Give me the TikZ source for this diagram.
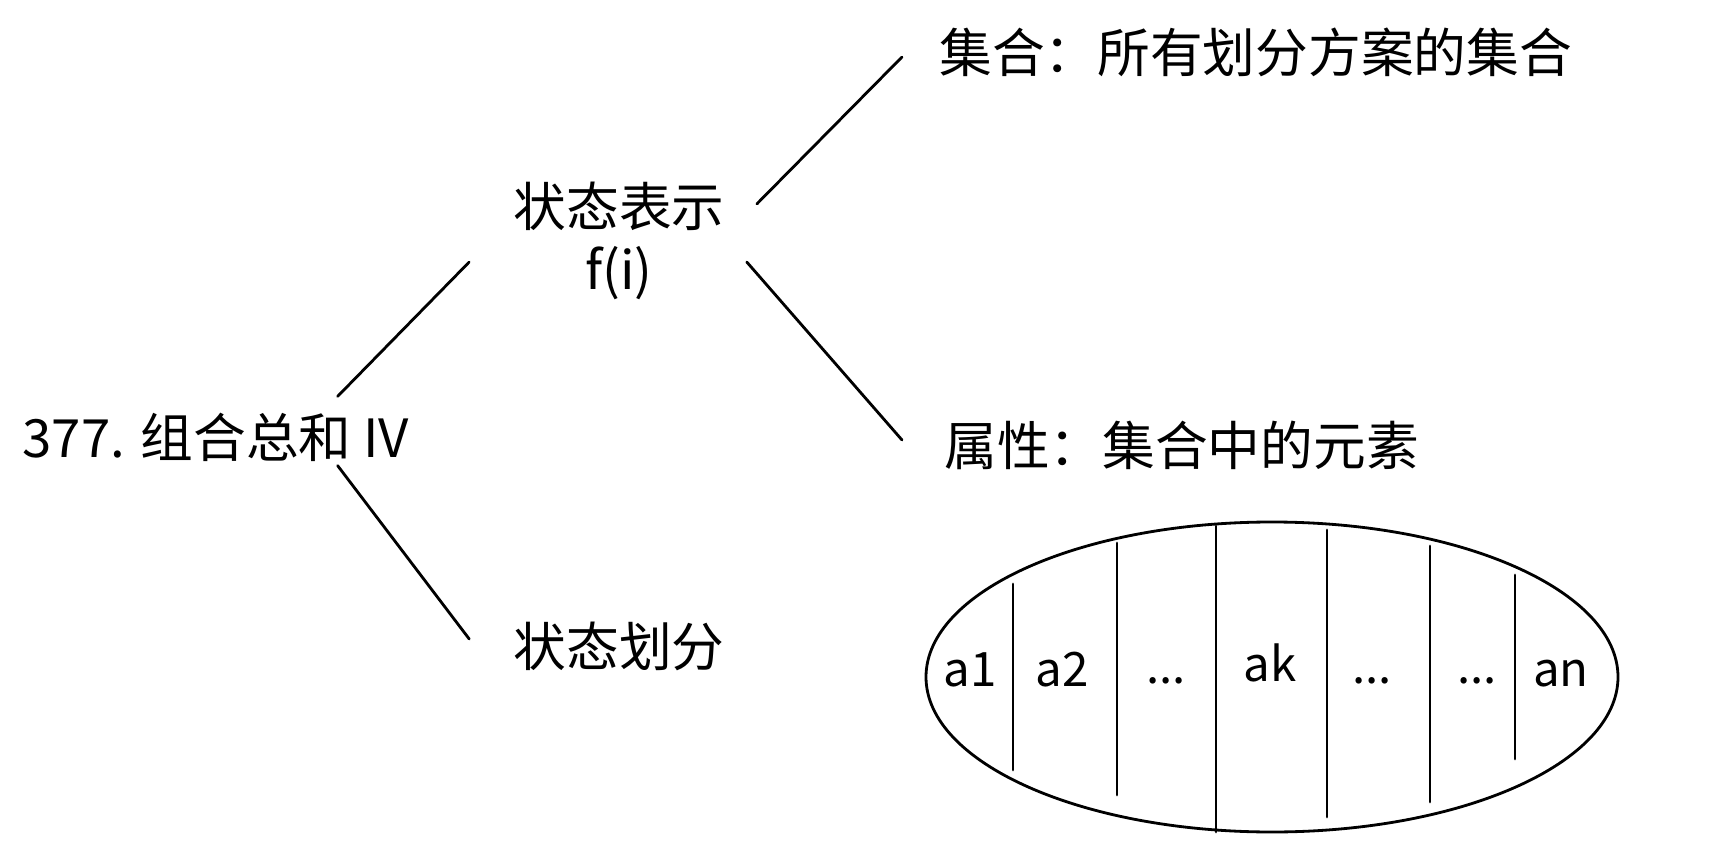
\documentclass[tikz,border=0pt]{standalone}
\usepackage{fontspec}
\setmainfont{Noto Sans CJK SC}
\usetikzlibrary{positioning,calc}
\newcommand{\celldots}{...}

\begin{document}
\begin{tikzpicture}[
    x=0.02cm, y=-0.02cm,
    term/.style={inner sep=0pt, font=\fontsize{30}{36}\selectfont, align=center},
    cell/.style={inner sep=0pt, anchor=base, font=\fontsize{27}{30}\selectfont},
    branch/.style={line width=1.6pt, line cap=round},
    divider/.style={line width=1.6pt, line cap=round}
]
    \useasboundingbox (0,0) rectangle (1712,848);

    % Tree of terms
    \node[term] (root) at (216,437) {377. 组合总和 IV};
    \node[term] (rep) at (619,241) {状态表示\\f(i)};
    \node[term] (part) at (619,646) {状态划分};
    \node[term, anchor=west] (set) at (939,52) {集合：所有划分方案的集合};
    \node[term, anchor=west] (attr) at (944,445) {属性：集合中的元素};

    \draw[branch] ([shift={(-72,-16)}]root.north east) -- ([shift={(-44,21)}]rep.west);
    \draw[branch] ([shift={(-72,4)}]root.south east) -- ([shift={(-44,-7)}]part.west);
    \draw[branch] ([shift={(32,-37)}]rep.east) -- ([shift={(-37,5)}]set.west);
    \draw[branch] ([shift={(22,21)}]rep.east) -- ([shift={(-42,-5)}]attr.west);

    % The set, cut into parts
    \draw[branch] (1272,677) ellipse [x radius=346, y radius=155];
    \foreach \x/\ya/\yb in {1013/584/770, 1117/543/795, 1216/526/832, 1327/530/817, 1430/546/802, 1515/575/759}
        \draw[divider] (\x,\ya) -- (\x,\yb);

    \foreach \name/\x/\y/\txt in {a1/970/686/a1, a2/1062/686/a2, dotsA/1166/683/\celldots, ak/1270/681/ak,
                                  dotsB/1372/683/\celldots, dotsC/1477/683/\celldots, an/1561/686/an}
        \node[cell] (cell-\name) at (\x,\y) {\txt};
\end{tikzpicture}
\end{document}
